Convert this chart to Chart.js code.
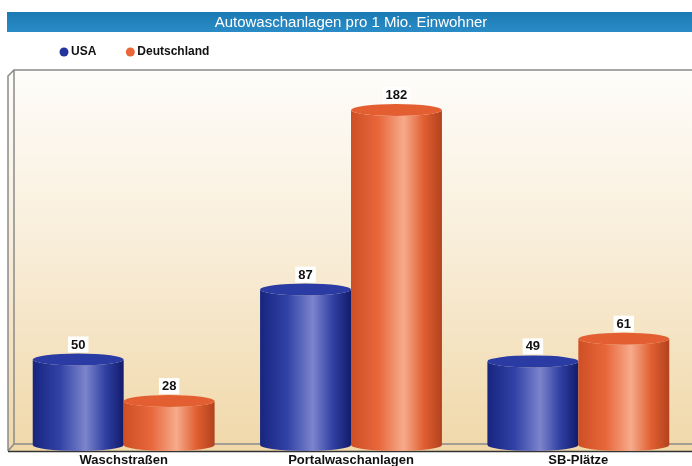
<!DOCTYPE html>
<html>
<head>
<meta charset="utf-8">
<script src="https://cdn.jsdelivr.net/npm/chart.js@4"></script>
<style>
    html, body { margin: 0; padding: 0; background: #ffffff; }
    #wrap { width: 692px; height: 466px; position: relative; }
</style>
</head>
<body>
<div id="wrap"><canvas id="myChart"></canvas></div>
<script>
const chartTitle = "Autowaschanlagen pro 1 Mio. Einwohner";
const categories = ["Waschstraßen", "Portalwaschanlagen", "SB-Plätze"];
const seriesNames = ["USA", "Deutschland"];
const usaValues = [50, 87, 49];
const deutschlandValues = [28, 182, 61];

// farben: legend + zylinder-verlauf (links dunkel, glanz rechts der mitte)
const seriesColors = ["#23349c", "#e8663a"];
const bodyStops = [
    ["#17257f", "#3142a6", "#7c84cc", "#3040a2", "#121c6c"],
    ["#cf4f25", "#e8663a", "#f6ab8c", "#e15f31", "#b2421d"]
];
const capColors = ["#2a3ba3", "#e35f32"];

///* frame, hintergrund und titelbalken */
const framePlugin = {
    id: "frame",
    beforeDraw(chart) {
        const ctx = chart.ctx;
        const ca = chart.chartArea;
        const L = ca.left, R = ca.right, T = ca.top, B = ca.bottom;

        ctx.save();
        // titelbalken
        const tb = ctx.createLinearGradient(0, 12, 0, 32);
        tb.addColorStop(0, "#1b7ab4");
        tb.addColorStop(1, "#2a8cc6");
        ctx.fillStyle = tb;
        ctx.fillRect(7, 12, chart.width - 7, 20);

        // plot hintergrund
        const bg = ctx.createLinearGradient(0, T, 0, B);
        bg.addColorStop(0, "#fefdfa");
        bg.addColorStop(0.5, "#f8ecd6");
        bg.addColorStop(1, "#f0d8a9");
        ctx.fillStyle = bg;
        ctx.beginPath();
        ctx.moveTo(L - 2, T + 6);
        ctx.lineTo(L + 4, T);
        ctx.lineTo(R, T);
        ctx.lineTo(R, B + 3);
        ctx.lineTo(L - 2, B + 3);
        ctx.closePath();
        ctx.fill();

        ctx.strokeStyle = "#8a8a8a";
        ctx.lineWidth = 1.5;
        ctx.beginPath();
        ctx.moveTo(R, T);
        ctx.lineTo(L + 4, T);
        ctx.lineTo(L + 4, B - 4);
        ctx.lineTo(R, B - 4);
        ctx.moveTo(L + 4, T);
        ctx.lineTo(L - 2, T + 6);
        ctx.lineTo(L - 2, B + 3);
        ctx.moveTo(L + 4, B - 4);
        ctx.lineTo(L - 2, B + 3);
        ctx.stroke();

        // x achse
        ctx.strokeStyle = "#333333";
        ctx.beginPath();
        ctx.moveTo(L - 2, B + 3.5);
        ctx.lineTo(R, B + 3.5);
        ctx.stroke();
        ctx.restore();
    },
    // legende (punkt + text) aus den datasets
    afterDraw(chart) {
        const ctx = chart.ctx;
        ctx.save();
        ctx.font = "bold 12px Arial";
        ctx.textBaseline = "middle";
        let x = 64;
        const y = 52;
        chart.data.datasets.forEach((ds) => {
            ctx.fillStyle = ds.backgroundColor;
            ctx.beginPath();
            ctx.arc(x, y, 4.5, 0, Math.PI * 2);
            ctx.fill();
            ctx.fillStyle = "#111111";
            ctx.fillText(ds.label, x + 7, y);
            x += 7 + ctx.measureText(ds.label).width + 34;
        });
        ctx.restore();
    }
};

///* balken als zylinder zeichnen */
const cylinderPlugin = {
    id: "cylinder",
    beforeDatasetDraw() {
        return false;
    },
    afterDatasetsDraw(chart) {
        const ctx = chart.ctx;
        const base = chart.chartArea.bottom + 3;
        const ry = 6;

        chart.data.datasets.forEach((ds, di) => {
            const meta = chart.getDatasetMeta(di);
            meta.data.forEach((bar, i) => {
                const rx = bar.width / 2;
                const left = bar.x - rx;
                const right = bar.x + rx;
                const top = bar.y;

                ctx.save();
                const grad = ctx.createLinearGradient(left, 0, right, 0);
                const stops = bodyStops[di];
                [0, 0.3, 0.58, 0.8, 1].forEach((p, k) => grad.addColorStop(p, stops[k]));

                ctx.fillStyle = grad;
                ctx.beginPath();
                ctx.moveTo(left, top + ry);
                ctx.lineTo(left, base - ry);
                ctx.ellipse(bar.x, base - ry, rx, ry, 0, Math.PI, 0, true);
                ctx.lineTo(right, top + ry);
                ctx.ellipse(bar.x, top + ry, rx, ry, 0, 0, Math.PI, false);
                ctx.closePath();
                ctx.fill();

                // deckel
                ctx.fillStyle = capColors[di];
                ctx.beginPath();
                ctx.ellipse(bar.x, top + ry, rx, ry, 0, 0, Math.PI * 2);
                ctx.fill();

                // wert-label
                const text = String(ds.data[i]);
                ctx.font = "bold 13px Arial";
                const w = ctx.measureText(text).width;
                ctx.fillStyle = "#ffffff";
                ctx.fillRect(bar.x - w / 2 - 3, top - 17, w + 6, 16);
                ctx.fillStyle = "#111111";
                ctx.textAlign = "center";
                ctx.textBaseline = "middle";
                ctx.fillText(text, bar.x, top - 8.5);
                ctx.restore();
            });
        });
    }
};

const canvas = document.getElementById("myChart");

new Chart(canvas, {
    type: "bar",
    data: {
        labels: categories,
        datasets: [
            { label: seriesNames[0], data: usaValues, backgroundColor: seriesColors[0] },
            { label: seriesNames[1], data: deutschlandValues, backgroundColor: seriesColors[1] }
        ]
    },
    options: {
        responsive: true,
        maintainAspectRatio: false,
        animation: false,
        layout: { padding: { left: 10, right: 0, top: 0, bottom: 0 } },
        datasets: {
            bar: { categoryPercentage: 0.8, barPercentage: 1.0 }
        },
        scales: {
            x: {
                grid: { display: false, drawTicks: false, tickLength: 0 },
                border: { display: false },
                afterFit(scale) {
                    scale.height = 18;
                },
                ticks: {
                    color: "#111111",
                    padding: 5,
                    font: { family: "Arial", size: 13, weight: "bold" }
                }
            },
            y: {
                display: false,
                min: 0,
                max: 200
            }
        },
        plugins: {
            title: {
                display: true,
                text: chartTitle,
                color: "#ffffff",
                font: { family: "Arial", size: 15, weight: "normal" },
                padding: { top: 14, bottom: 38 }
            },
            legend: { display: false },
            tooltip: { enabled: false }
        }
    },
    plugins: [framePlugin, cylinderPlugin]
});
</script>
</body>
</html>
